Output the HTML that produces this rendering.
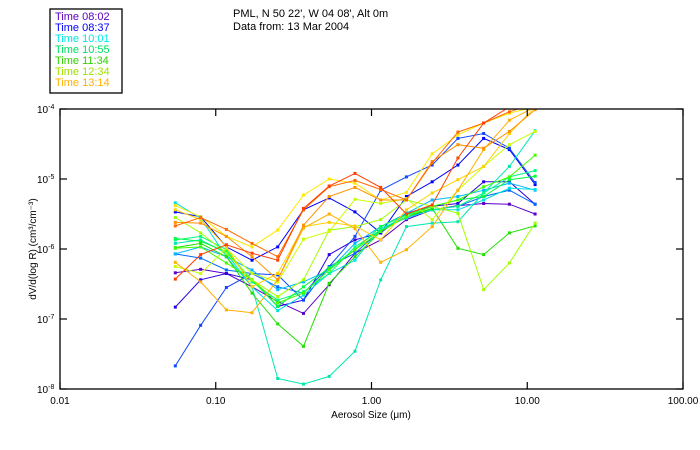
<!DOCTYPE html>
<html><head><meta charset="utf-8"><style>
body{margin:0;background:#fff}
svg{display:block;font-family:"Liberation Sans",sans-serif}
</style></head><body>
<svg id="chart" width="700" height="450" viewBox="0 0 700 450">
<rect x="0" y="0" width="700" height="450" fill="#fff"/>
<g>
<rect x="50" y="9" width="72" height="84" fill="#fff" stroke="#000" stroke-width="1.3"/>
<g id="legend-items" font-size="11"></g>
</g>
<text x="233" y="17" font-size="11">PML, N 50 22', W 04 08', Alt 0m</text>
<text x="233" y="30" font-size="11">Data from: 13 Mar 2004</text>
<defs><clipPath id="plotclip"><rect x="60" y="109" width="623" height="280"/></clipPath></defs>
<g id="series" clip-path="url(#plotclip)"></g>
<rect x="60" y="109" width="623" height="280" fill="none" stroke="#000" stroke-width="1.3"/>
<g id="axes" font-size="10"></g>
<text x="371" y="418" font-size="10" text-anchor="middle">Aerosol Size (μm)</text>
<text transform="translate(36,249) rotate(-90)" font-size="10" text-anchor="middle">dV/d(log R) (cm³/cm⁻³)</text>
</svg>
<script>
const sizes=[0.055,0.080,0.117,0.171,0.250,0.366,0.535,0.783,1.146,1.676,2.452,3.588,5.249,7.679,11.23];
const xTickValues=[0.01,0.1,1,10,100];
const xTickLabels=["0.01","0.10","1.00","10.00","100.00"];
const yTickExps=[-4,-5,-6,-7,-8];
const legendLabels=["Time 08:02","Time 08:37","Time 10:01","Time 10:55","Time 11:34","Time 12:34","Time 13:14"];
const legendColors=["#6000c0","#0000ff","#00e8e8","#00e060","#30d000","#a0e000","#ffb000"];
const seriesColors=["#5a00c8","#3000e0","#0000ff","#1048ff","#0068ff","#00b8ff","#00e0e0","#00e8b0","#00ff80","#00ff40","#20e000","#40ff00","#a0ff00","#c8ff00","#ffe800","#ffd000","#ffb000","#ff9000","#ff6800","#ff4000"];
const s1=[-6.34,-6.29,-6.35,-6.54,-6.75,-6.92,-6.51,-6.06,-5.87,-5.58,-5.44,-5.38,-5.35,-5.36,-5.50];
const s2=[-6.83,-6.44,-6.35,-6.44,-6.82,-6.73,-6.08,-5.87,-5.77,-5.49,-5.39,-5.35,-5.04,-5.04,-5.36];
const s3=[-5.47,-5.54,-5.97,-6.16,-5.97,-5.44,-5.27,-5.47,-5.77,-5.25,-5.04,-4.80,-4.42,-4.58,-5.08];
const s4=[-7.67,-7.09,-6.55,-6.35,-6.37,-6.73,-6.25,-5.82,-5.16,-4.97,-4.80,-4.42,-4.35,-4.56,-5.05];
const s5=[-6.07,-6.13,-6.30,-6.35,-6.54,-6.63,-6.25,-6.06,-5.73,-5.54,-5.44,-5.39,-5.25,-5.16,-5.36];
const s6=[-6.07,-5.97,-6.11,-6.30,-6.58,-6.47,-6.30,-5.92,-5.68,-5.49,-5.30,-5.25,-5.16,-5.06,-5.16];
const s7=[-5.34,-5.56,-6.11,-6.54,-6.88,-6.66,-6.35,-6.16,-5.70,-5.56,-5.44,-5.44,-5.30,-5.13,-5.15];
const s8=[-5.92,-5.87,-6.06,-6.54,-7.85,-7.93,-7.82,-7.46,-6.44,-5.68,-5.63,-5.61,-5.20,-4.82,-4.31];
const s9=[-5.87,-5.82,-6.01,-6.47,-6.73,-6.61,-6.35,-5.97,-5.73,-5.51,-5.44,-5.39,-5.20,-4.97,-4.88];
const s10=[-5.85,-5.89,-6.04,-6.44,-6.82,-6.54,-6.27,-6.01,-5.68,-5.51,-5.39,-5.30,-5.25,-5.01,-4.96];
const s11=[-5.98,-5.92,-6.11,-6.63,-7.07,-7.39,-6.49,-6.11,-5.75,-5.54,-5.42,-5.99,-6.08,-5.77,-5.67];
const s12=[-5.99,-5.97,-6.20,-6.44,-6.77,-6.63,-6.30,-6.01,-5.75,-5.54,-5.39,-5.30,-5.11,-4.97,-4.66];
const s13=[-5.55,-5.77,-6.06,-6.44,-6.68,-6.44,-5.73,-5.68,-5.58,-5.30,-5.39,-5.49,-6.58,-6.20,-5.63];
const s14=[-6.25,-6.35,-5.99,-6.35,-6.47,-5.86,-5.75,-5.29,-5.35,-5.28,-5.58,-5.16,-4.82,-4.51,-4.32];
const s15=[-5.38,-5.54,-5.82,-5.97,-5.73,-5.23,-5.00,-5.06,-5.30,-5.19,-4.64,-4.37,-4.20,-4.06,-3.97];
const s16=[-5.44,-5.58,-5.97,-6.54,-6.35,-5.68,-5.62,-5.67,-5.87,-5.44,-5.20,-5.01,-4.82,-4.35,-3.97];
const s17=[-6.19,-6.47,-6.87,-6.91,-6.44,-5.70,-5.50,-5.71,-6.19,-6.01,-5.68,-5.16,-4.58,-4.16,-3.97];
const s18=[-5.62,-5.63,-5.82,-6.11,-6.44,-5.66,-5.25,-5.12,-5.30,-5.30,-4.75,-4.51,-4.56,-4.32,-4.01];
const s19=[-5.67,-5.55,-5.72,-5.92,-6.11,-5.44,-5.11,-5.02,-5.15,-5.30,-4.77,-4.33,-4.20,-4.04,-3.92];
const s20=[-6.43,-6.08,-5.94,-6.06,-6.16,-5.42,-5.10,-4.92,-5.12,-5.50,-5.37,-4.70,-4.20,-3.97,-3.87];
const allSeries=[s1,s2,s3,s4,s5,s6,s7,s8,s9,s10,s11,s12,s13,s14,s15,s16,s17,s18,s19,s20];

const NS="http://www.w3.org/2000/svg";
const X0=60,X1=683,Y0=109,Y1=389;
function xScale(v){return X0+(Math.log10(v)+2)/4*(X1-X0);}
function yScale(logv){return Y0+(-4-logv)/4*(Y1-Y0);}
function mk(tag,attrs,parent){const e=document.createElementNS(NS,tag);for(const k in attrs)e.setAttribute(k,attrs[k]);parent.appendChild(e);return e;}

const axes=document.getElementById('axes');
xTickValues.forEach((v,i)=>{
  const x=xScale(v);
  const t1=mk('line',{x1:x,x2:x,y1:Y1,y2:Y1-7,stroke:'#000','stroke-width':1.2},axes);
  
  
  const t2=mk('line',{x1:x,x2:x,y1:Y0,y2:Y0+7,stroke:'#000','stroke-width':1.2},axes);
  
  
  const lb=mk('text',{x:x,y:Y1+15,'text-anchor':'middle'},axes);
  lb.textContent=xTickLabels[i];
  
  
});
yTickExps.forEach(e=>{
  const y=yScale(e);
  const t1=mk('line',{x1:X0,x2:X0+7,y1:y,y2:y,stroke:'#000','stroke-width':1.2},axes);
  
  
  const t2=mk('line',{x1:X1,x2:X1-7,y1:y,y2:y,stroke:'#000','stroke-width':1.2},axes);
  
  
  const lb=mk('text',{x:X0-23,y:y+4},axes);
  
  
  lb.appendChild(document.createTextNode('10'));
  const sp=mk('tspan',{dy:-4,'font-size':7},lb);
  sp.textContent=String(e);
});

const sg=document.getElementById('series');
allSeries.forEach((s,i)=>{
  const g=mk('g',{},sg);
  
  
  const pts=s.map((v,j)=>xScale(sizes[j]).toFixed(1)+','+yScale(v).toFixed(1)).join(' ');
  const pl=mk('polyline',{points:pts,fill:'none',stroke:seriesColors[i],'stroke-width':1},g);
  
  
  s.forEach((v,j)=>{
    const r=mk('rect',{x:xScale(sizes[j])-1.5,y:yScale(v)-1.5,width:3,height:3,fill:seriesColors[i]},g);
    
    
  });
});

const lg=document.getElementById('legend-items');
legendLabels.forEach((l,i)=>{
  const t=mk('text',{x:55,y:20+i*11,fill:legendColors[i]},lg);
  t.textContent=l;
  
  
});
</script>
</body></html>
